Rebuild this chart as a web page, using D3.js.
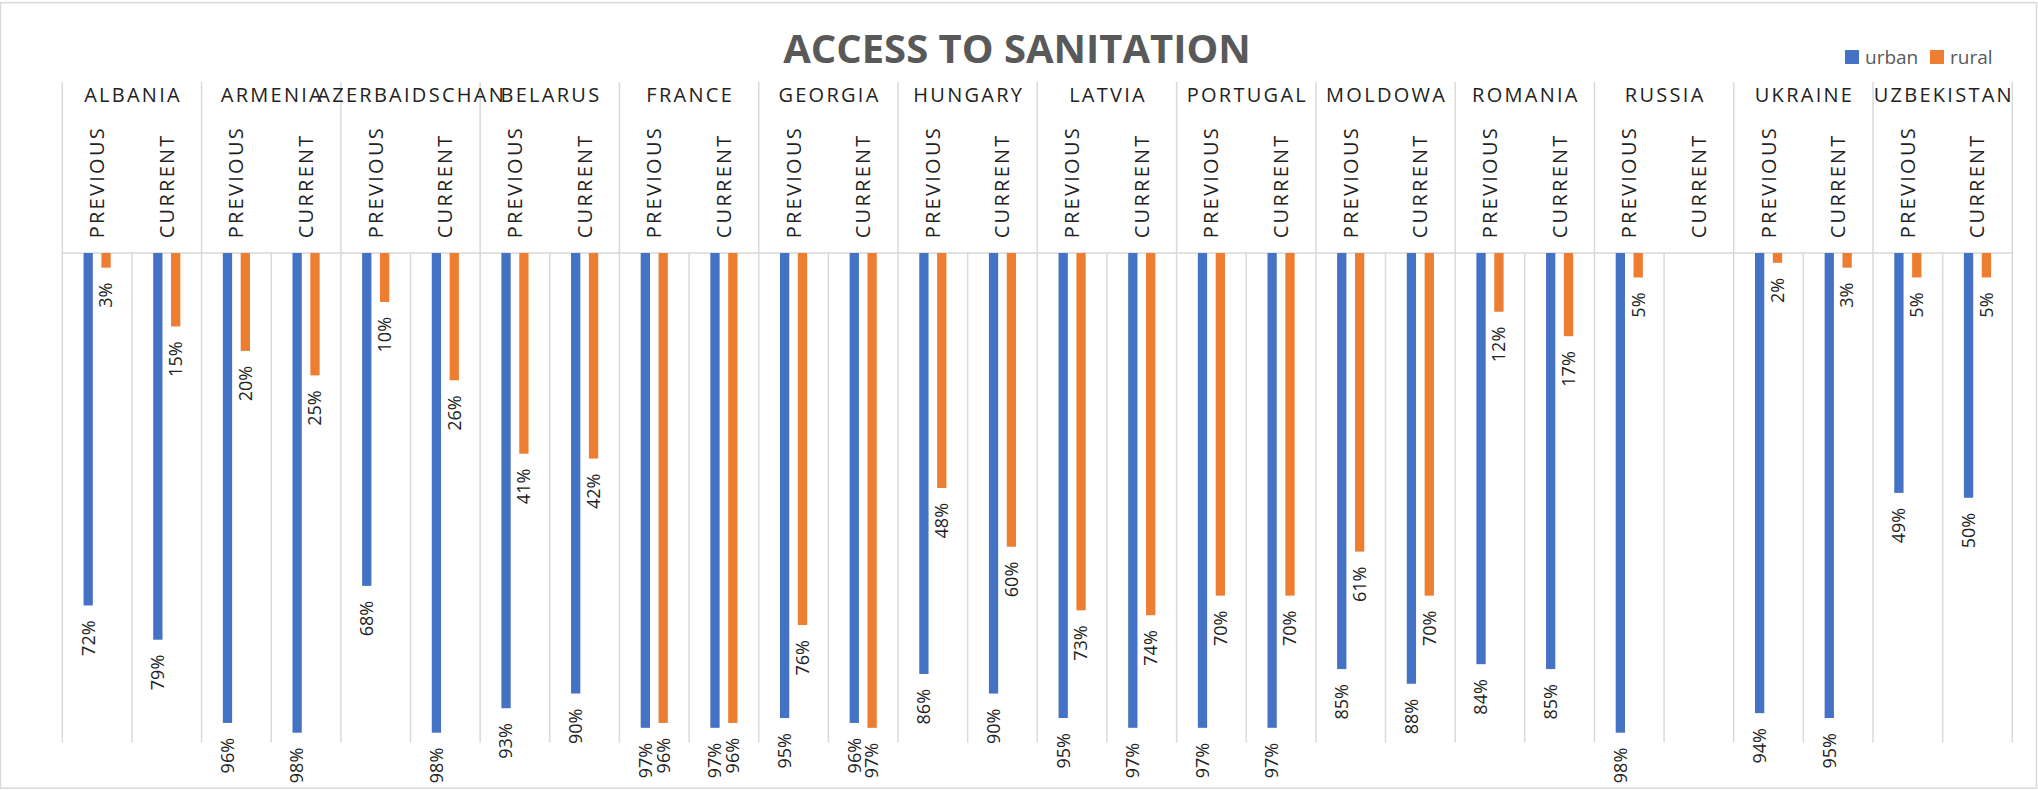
<!DOCTYPE html>
<html>
<head>
<meta charset="utf-8">
<script src="https://cdn.jsdelivr.net/npm/d3@7"></script>
<style>
  body { margin: 0; background: #fff; }
  text { font-family: "Open Sans", sans-serif; }
  .head { font-family: "Liberation Sans Narrow", "Open Sans", sans-serif; }
</style>
</head>
<body>
<div id="wrapper"></div>
<script>
// values (percent of population)
var countries = ["ALBANIA", "ARMENIA", "AZERBAIDSCHAN", "BELARUS", "FRANCE", "GEORGIA", "HUNGARY",
  "LATVIA", "PORTUGAL", "MOLDOWA", "ROMANIA", "RUSSIA", "UKRAINE", "UZBEKISTAN"]
var periods = ["PREVIOUS", "CURRENT"]
var seriesNames = ["urban", "rural"]

// [previous, current] per country, null = no value
var urbanValues = [[72, 79], [96, 98], [68, 98], [93, 90], [97, 97], [95, 96], [86, 90],
  [95, 97], [97, 97], [85, 88], [84, 85], [98, null], [94, 95], [49, 50]]
var ruralValues = [[3, 15], [20, 25], [10, 26], [41, 42], [96, 96], [76, 97], [48, 60],
  [73, 74], [70, 70], [61, 70], [12, 17], [5, null], [2, 3], [5, 5]]

var colors = { urban: "#4472C4", rural: "#ED7D31" }
var gridColor = "#d9d9d9"

var width = 2038,
    height = 790

var plot = { left: 62.3, right: 2012.3, axisY: 253, bottom: 742.5, headerTop: 82 }

// flatten into one row per bar
var data = []
countries.forEach((c, i) => {
    periods.forEach((p, j) => {
        data.push({ country: c, period: p, series: "urban", value: urbanValues[i][j] })
        data.push({ country: c, period: p, series: "rural", value: ruralValues[i][j] })
    })
})
data = data.filter(d => d.value != null)

const svg = d3.select("#wrapper")
    .append("svg")
    .attr("width", width)
    .attr("height", height)

// outer chart border
svg.append("rect")
    .attr("x", 0.5).attr("y", 2.7)
    .attr("width", width - 2).attr("height", 785.5)
    .attr("fill", "none")
    .attr("stroke", gridColor)
    .attr("stroke-width", 1.5)

var xCountry = d3.scaleBand()
    .domain(countries)
    .range([plot.left, plot.right])

var xPeriod = d3.scaleBand()
    .domain(periods)
    .range([0, xCountry.bandwidth()])

var xSeries = d3.scaleBand()
    .domain(seriesNames)
    .range([0, xPeriod.bandwidth()])
    .paddingInner(0.48)
    .paddingOuter(1.19)

// reversed value axis: 0 at the top, bars hang down
var yScale = d3.scaleLinear()
    .domain([0, 100])
    .range([plot.axisY, plot.bottom])

// vertical gridlines at every sub-category boundary
var subEdges = []
countries.forEach(c => periods.forEach(p => subEdges.push(xCountry(c) + xPeriod(p))))
subEdges.push(plot.right)

svg.append("g")
    .selectAll("line")
    .data(subEdges)
    .join("line")
    .attr("x1", d => d).attr("x2", d => d)
    .attr("y1", plot.axisY).attr("y2", plot.bottom)
    .attr("stroke", gridColor)
    .attr("stroke-width", 1.5)

// header separators at country boundaries
var countryEdges = countries.map(c => xCountry(c)).concat([plot.right])
svg.append("g")
    .selectAll("line")
    .data(countryEdges)
    .join("line")
    .attr("x1", d => d).attr("x2", d => d)
    .attr("y1", plot.headerTop).attr("y2", plot.axisY)
    .attr("stroke", gridColor)
    .attr("stroke-width", 1.5)

// category axis line
svg.append("line")
    .attr("x1", plot.left).attr("x2", plot.right)
    .attr("y1", plot.axisY).attr("y2", plot.axisY)
    .attr("stroke", gridColor)
    .attr("stroke-width", 1.5)

// bars
var barX = d => xCountry(d.country) + xPeriod(d.period) + xSeries(d.series)

svg.append("g")
    .selectAll("rect")
    .data(data)
    .join("rect")
    .attr("x", barX)
    .attr("y", yScale(0))
    .attr("width", xSeries.bandwidth())
    .attr("height", d => yScale(d.value) - yScale(0))
    .attr("fill", d => colors[d.series])

// data labels, rotated, just past the bar end
svg.append("g")
    .selectAll("text")
    .data(data)
    .join("text")
    .attr("transform", d => `translate(${barX(d) + xSeries.bandwidth() / 2},${yScale(d.value) + 15}) rotate(-90)`)
    .attr("text-anchor", "end")
    .attr("dy", "0.35em")
    .attr("font-size", 18)
    .attr("fill", "#222")
    .text(d => d.value + "%")

// header letter spacing: stretch "PREVIOUS" to ~110px whatever font got picked
var probe = svg.append("text").attr("class", "head").attr("font-size", 20).text("PREVIOUS")
var spacing = Math.max(0, (110 - probe.node().getComputedTextLength()) / 7)
probe.remove()

// country labels
svg.append("g")
    .selectAll("text")
    .data(countries)
    .join("text")
    .attr("class", "head")
    .attr("x", d => xCountry(d) + xCountry.bandwidth() / 2 + spacing / 2)
    .attr("y", 101.7)
    .attr("text-anchor", "middle")
    .attr("font-size", 20)
    .attr("letter-spacing", spacing)
    .attr("fill", "#222")
    .text(d => d)

// period labels (vertical)
var periodLabels = []
countries.forEach(c => periods.forEach(p => periodLabels.push({ country: c, period: p })))

svg.append("g")
    .selectAll("text")
    .data(periodLabels)
    .join("text")
    .attr("class", "head")
    .attr("transform", d => `translate(${xCountry(d.country) + xPeriod(d.period) + xPeriod.bandwidth() / 2},238.3) rotate(-90)`)
    .attr("text-anchor", "start")
    .attr("dy", "0.35em")
    .attr("font-size", 20)
    .attr("letter-spacing", spacing)
    .attr("fill", "#222")
    .text(d => d.period)

// title
svg.append("text")
    .attr("x", 1017)
    .attr("y", 63.3)
    .attr("text-anchor", "middle")
    .attr("font-size", 40)
    .attr("font-weight", "bold")
    .attr("fill", "#595959")
    .text("ACCESS TO SANITATION")

// legend
var legend = svg.append("g")
    .selectAll("g")
    .data(seriesNames)
    .join("g")
    .attr("transform", (d, i) => `translate(${1845 + i * 85},50)`)

legend.append("rect")
    .attr("width", 14)
    .attr("height", 14)
    .attr("fill", d => colors[d])

legend.append("text")
    .attr("x", 20)
    .attr("y", 14)
    .attr("font-size", 19)
    .attr("fill", "#595959")
    .text(d => d)
</script>
</body>
</html>
